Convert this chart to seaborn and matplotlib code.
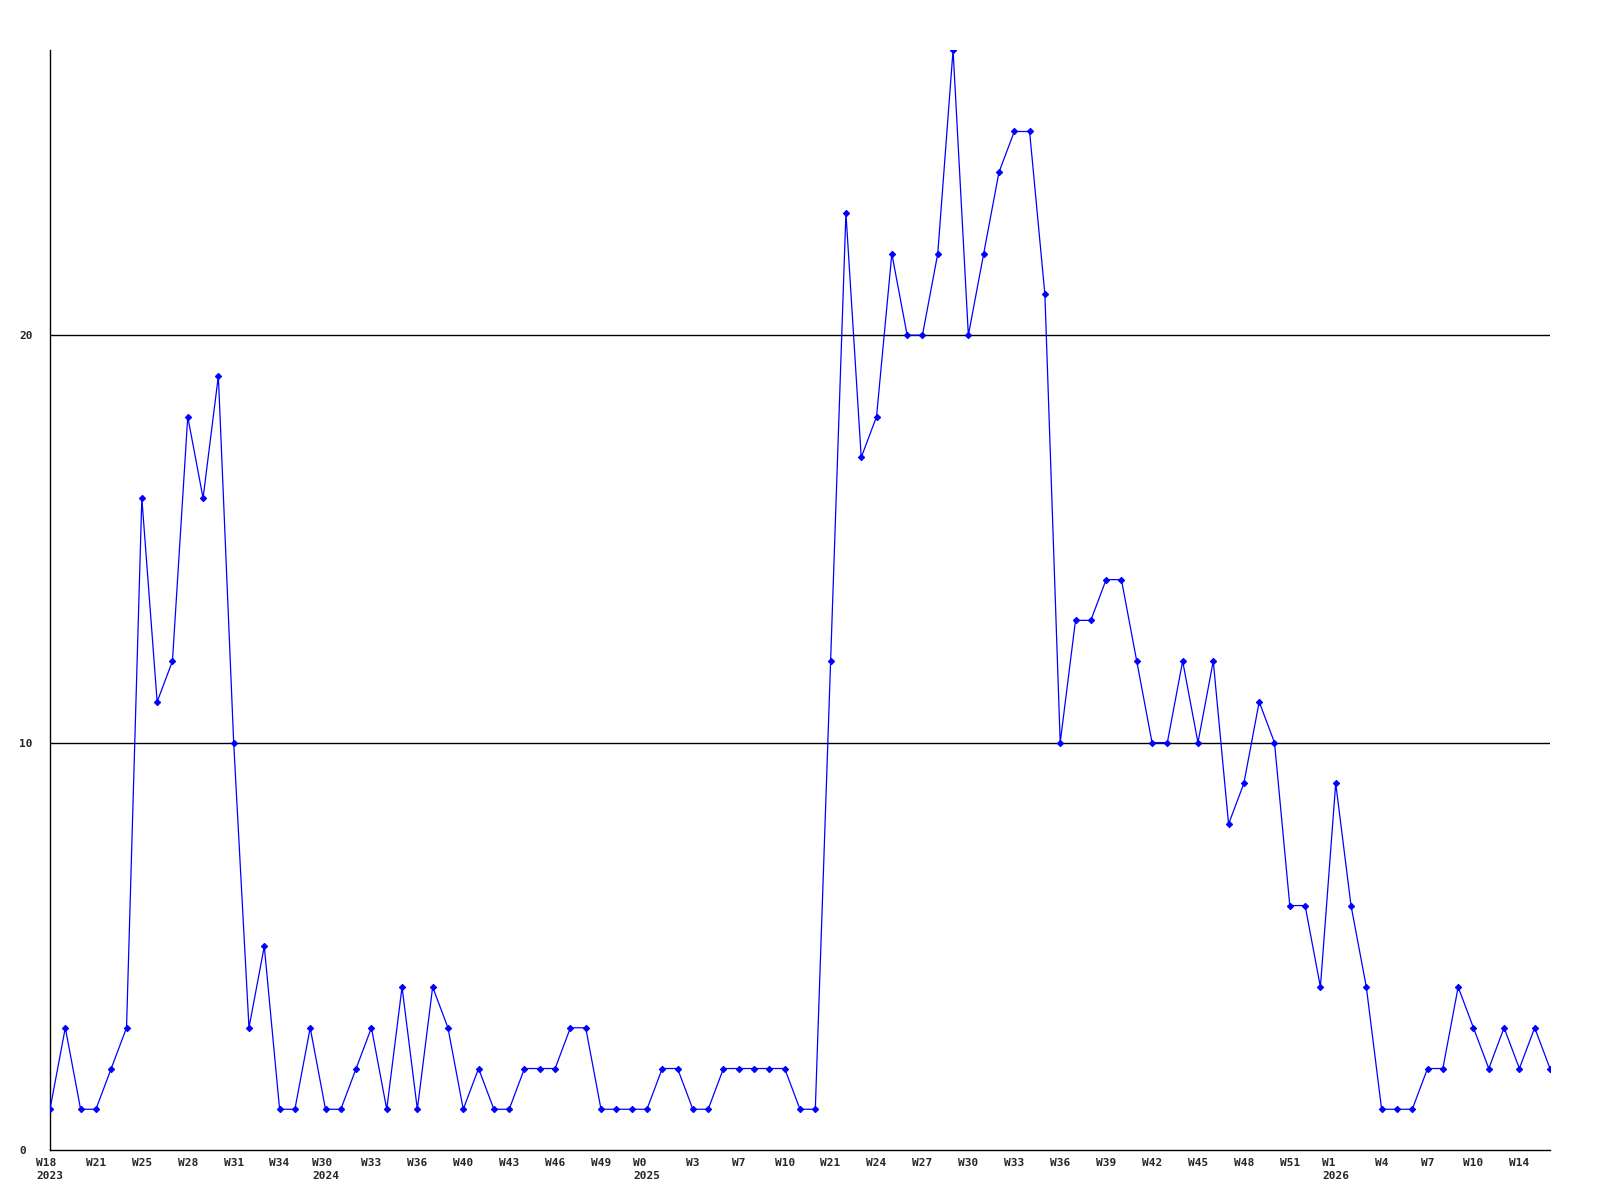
import numpy as np
import pandas as pd
import matplotlib
matplotlib.use("Agg")
import matplotlib.pyplot as plt
import seaborn as sns

# weekly counts, one value per week
counts = [1, 3, 1, 1, 2, 3, 16, 11, 12, 18, 16, 19, 10, 3, 5, 1, 1, 3, 1, 1,
          2, 3, 1, 4, 1, 4, 3, 1, 2, 1, 1, 2, 2, 2, 3, 3, 1, 1, 1, 1,
          2, 2, 1, 1, 2, 2, 2, 2, 2, 1, 1, 12, 23, 17, 18, 22, 20, 20, 22, 27,
          20, 22, 24, 25, 25, 21, 10, 13, 13, 14, 14, 12, 10, 10, 12, 10, 12, 8, 9, 11,
          10, 6, 6, 4, 9, 6, 4, 1, 1, 1, 2, 2, 4, 3, 2, 3, 2, 3, 2]

week_labels = ["W18", "W21", "W25", "W28", "W31", "W34", "W30", "W33", "W36", "W40",
               "W43", "W46", "W49", "W0", "W3", "W7", "W10", "W21", "W24", "W27",
               "W30", "W33", "W36", "W39", "W42", "W45", "W48", "W51", "W1", "W4",
               "W7", "W10", "W14"]
year_labels = {0: "2023", 18: "2024", 39: "2025", 84: "2026"}

yticks = [0, 10, 20]

df = pd.DataFrame({"idx": np.arange(len(counts)), "count": counts})

sns.set_style("white")
plt.rcParams["font.family"] = ["DejaVu Sans Mono"]

fig = plt.figure(figsize=(16, 12), dpi=100)
ax = fig.add_axes([50 / 1600, 50 / 1200, 1500 / 1600, 1100 / 1200])

for y in yticks[1:]:
    ax.axhline(y, color="black", lw=1.0, zorder=1)

sns.lineplot(data=df, x="idx", y="count", ax=ax, color="#0000ff", lw=0.9,
             marker="D", markersize=3.2, markeredgecolor="#0000ff", zorder=3)

ax.set_xlim(0, len(counts) - 1)
ax.set_ylim(0, max(counts))

tick_pos = np.arange(0, len(counts), 3)
labels = []
for i, w in zip(tick_pos, week_labels):
    if i in year_labels:
        labels.append(w + "\n" + year_labels[i])
    else:
        labels.append(w + "\n")
ax.set_xticks(tick_pos)
ax.set_xticklabels(labels, fontsize=8, fontweight="bold", multialignment="left",
                   va="top", linespacing=1.35)
ax.set_yticks(yticks)
ax.set_yticklabels([str(v) for v in yticks], fontsize=8, fontweight="bold", ha="left")
ax.tick_params(axis="x", length=0, pad=6)
ax.tick_params(axis="y", length=0, pad=22)

for s in ["top", "right"]:
    ax.spines[s].set_visible(False)
for s in ["left", "bottom"]:
    ax.spines[s].set_color("black")
    ax.spines[s].set_linewidth(1.0)
ax.set_xlabel("")
ax.set_ylabel("")

fig.savefig("out.png", dpi=100, facecolor="white")
